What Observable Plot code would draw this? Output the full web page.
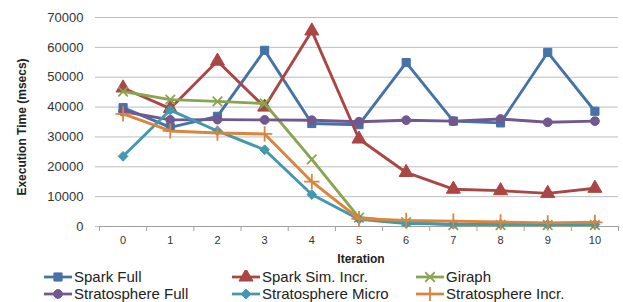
<!DOCTYPE html>
<html>
<head>
<meta charset="utf-8">
<script src="https://cdn.jsdelivr.net/npm/d3@7"></script>
<script src="https://cdn.jsdelivr.net/npm/@observablehq/plot@0.6"></script>
<style>
  html, body { margin: 0; padding: 0; background: #fff; }
  body { width: 623px; height: 302px; overflow: hidden; font-family: "Liberation Sans", Arial, sans-serif; }
  #legend { position: relative; width: 623px; height: 36px; }
  .item { position: absolute; display: flex; align-items: center; font-size: 15px; line-height: 17px; color: #222; white-space: nowrap; height: 17px; }
  .item svg { margin-right: 2px; }
</style>
</head>
<body>
<div id="chart"></div>
<div id="legend"></div>
<script>
const iterations = [0, 1, 2, 3, 4, 5, 6, 7, 8, 9, 10];
const seriesNames = ["Spark Full", "Spark Sim. Incr.", "Giraph", "Stratosphere Full", "Stratosphere Micro", "Stratosphere Incr."];
const sparkFull        = [39800, 33200, 36900, 59000, 34500, 34100, 54900, 35300, 34700, 58300, 38600];
const sparkSimIncr     = [46400, 39500, 55400, 40000, 65500, 29300, 18100, 12500, 12000, 11100, 12800];
const giraph           = [45200, 42500, 41900, 41200, 22500, 3000, 1500, 500, 500, 500, 500];
const stratosphereFull = [38500, 35700, 35800, 35700, 35600, 35100, 35600, 35300, 36000, 34900, 35300];
const stratosphereMicro= [23500, 39000, 32000, 25700, 10700, 2400, 1000, 800, 800, 700, 700];
const stratosphereIncr = [37700, 32000, 31300, 31000, 15000, 2600, 2000, 1800, 1500, 1200, 1400];
const yTicks = [0, 10000, 20000, 30000, 40000, 50000, 60000, 70000];

const seriesValues = [sparkFull, sparkSimIncr, giraph, stratosphereFull, stratosphereMicro, stratosphereIncr];
const colors = ["#4572A7", "#AA4643", "#89A54E", "#71588F", "#4198AF", "#DB843D"];
const symbols = ["square", "triangle", "times", "circle", "diamond2", "plus"];
const radii = [4.6, 5.2, 4.4, 4.4, 4.4, 5];

const data = seriesNames.flatMap((s, i) => iterations.map((it, j) => ({series: s, iteration: it, value: seriesValues[i][j]})));

const marks = [
  Plot.gridY(yTicks, {stroke: "#bdbdbd", strokeOpacity: 1, strokeWidth: 1}),
  Plot.axisY(yTicks, {tickSize: 4, tickPadding: 12, fontSize: 13, tickFormat: d => String(d), label: null, stroke: "#bdbdbd", color: "#333"}),
  Plot.ruleY([0], {stroke: "#a0a0a0"}),
  Plot.axisX(iterations, {tickSize: 0, tickPadding: 10, fontSize: 11, label: null, color: "#333"}),
  Plot.axisX(d3.range(-0.5, 11, 1), {tickSize: 5, tickFormat: () => "", label: null, stroke: "#a0a0a0"}),
  Plot.text(["Execution Time (msecs)"], {frameAnchor: "left", rotate: -90, dx: -77, dy: 5, textAnchor: "middle", fontWeight: "bold", fontSize: 12, fill: "#222"}),
  Plot.text(["Iteration"], {frameAnchor: "bottom", dy: 33, dx: 2, textAnchor: "middle", lineAnchor: "middle", fontWeight: "bold", fontSize: 12, fill: "#222"})
];
seriesNames.forEach((s, i) => {
  const sub = data.filter(d => d.series === s);
  marks.push(Plot.line(sub, {x: "iteration", y: "value", stroke: colors[i], strokeWidth: 2.9}));
  const stroked = symbols[i] === "times" || symbols[i] === "plus";
  marks.push(Plot.dot(sub, {x: "iteration", y: "value", symbol: () => symbols[i], r: radii[i],
    fill: stroked ? "none" : colors[i], stroke: colors[i], strokeWidth: stroked ? 1.8 : 1}));
});

const chart = Plot.plot({
  width: 623,
  height: 266,
  marginLeft: 99,
  marginRight: 5,
  marginTop: 17,
  marginBottom: 40,
  style: {fontFamily: "'Liberation Sans', Arial, sans-serif", background: "#fff"},
  x: {type: "linear", domain: [-0.5, 10.5], axis: null},
  y: {domain: [0, 70000], axis: null},
  symbol: {type: "identity"},
  marks
});
document.getElementById("chart").appendChild(chart);

// legend
const legend = document.getElementById("legend");
const colX = [44, 232, 416];
const symMap = {square: d3.symbolSquare, triangle: d3.symbolTriangle, times: d3.symbolTimes, circle: d3.symbolCircle, diamond2: d3.symbolDiamond2, plus: d3.symbolPlus};
seriesNames.forEach((s, i) => {
  const div = document.createElement("div");
  div.className = "item";
  div.style.left = colX[i % 3] + "px";
  div.style.top = (2 + Math.floor(i / 3) * 17) + "px";
  const svg = d3.create("svg").attr("width", 28).attr("height", 14);
  svg.append("line").attr("x1", 0).attr("x2", 28).attr("y1", 7).attr("y2", 7).attr("stroke", colors[i]).attr("stroke-width", 2.75);
  const stroked = symbols[i] === "times" || symbols[i] === "plus";
  svg.append("path").attr("transform", "translate(14,7)")
    .attr("d", d3.symbol(symMap[symbols[i]], Math.PI * radii[i] * radii[i])())
    .attr("fill", stroked ? "none" : colors[i]).attr("stroke", colors[i]).attr("stroke-width", stroked ? 1.8 : 1);
  div.appendChild(svg.node());
  const span = document.createElement("span");
  span.textContent = s;
  div.appendChild(span);
  legend.appendChild(div);
});
</script>
</body>
</html>
